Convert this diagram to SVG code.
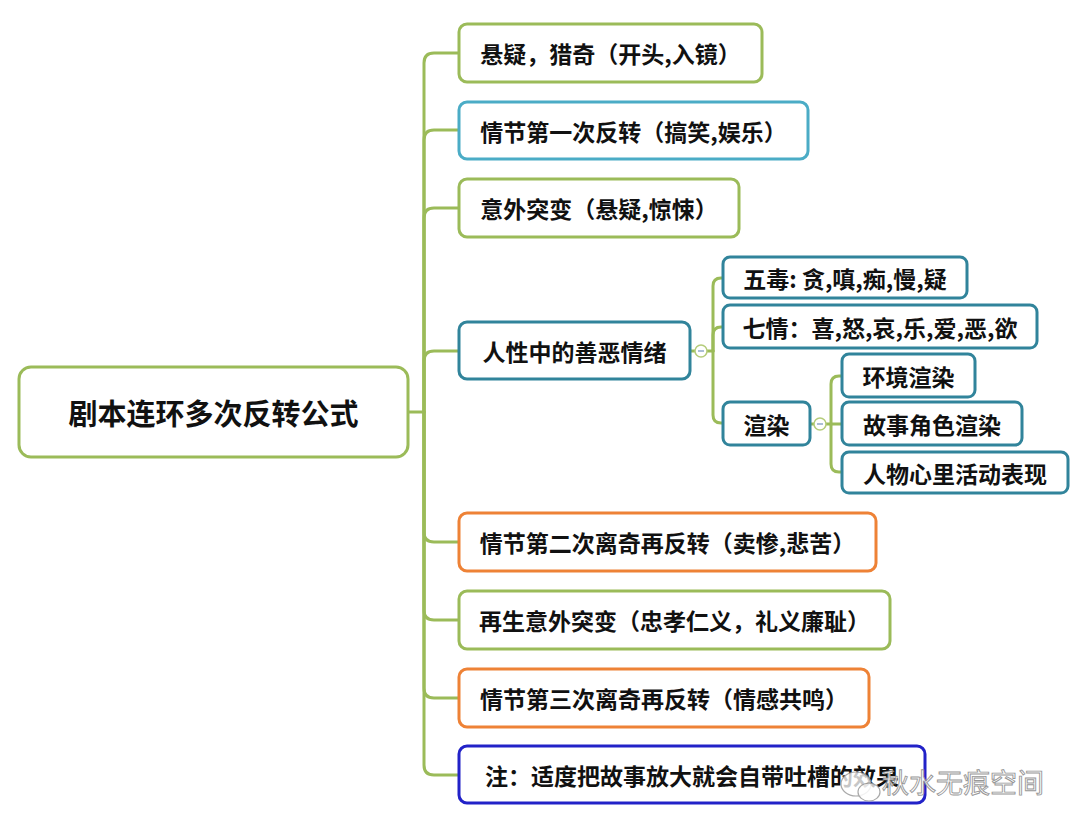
<svg xmlns="http://www.w3.org/2000/svg" width="1080" height="830" viewBox="0 0 1080 830">
<style>
  .bg { fill: #ffffff; }
  .box { fill: #ffffff; stroke-width: 3; }
  .g { stroke: #9bbb59; }
  .b { stroke: #4bacc6; }
  .t { stroke: #31849b; }
  .o { stroke: #ee8236; }
  .n { stroke: #2222c8; }
  .conn { fill: none; stroke: #9bbb59; stroke-width: 3; stroke-linecap: round; stroke-linejoin: round; }
  .lbl { font-family: "Noto Sans CJK SC", "Liberation Sans", sans-serif; font-weight: bold; font-size: 23px; fill: #111111; text-anchor: middle; dominant-baseline: central; }
  .root { font-size: 29px; }
  .tog { fill: #ffffff; stroke: #b5cc7a; stroke-width: 1.5; }
  .togm { stroke: #8fa8c8; stroke-width: 1.5; }
  .wm { font-family: "Noto Sans CJK SC", "Liberation Sans", sans-serif; font-size: 27px; fill: #ffffff; stroke: #8c8c8c; stroke-width: 0.9; }
</style>
<rect class="bg" x="0" y="0" width="1080" height="830"/>

<g id="connectors">
  <path class="conn" d="M408,412 H424"/>
  <path class="conn" d="M424,412 V63 Q424,53 434,53 H459"/>
  <path class="conn" d="M424,412 V140 Q424,130 434,130 H459"/>
  <path class="conn" d="M424,412 V218 Q424,208 434,208 H459"/>
  <path class="conn" d="M424,412 V361 Q424,351 434,351 H459"/>
  <path class="conn" d="M424,412 V532 Q424,542 434,542 H459"/>
  <path class="conn" d="M424,412 V610 Q424,620 434,620 H459"/>
  <path class="conn" d="M424,412 V688 Q424,698 434,698 H459"/>
  <path class="conn" d="M424,412 V765 Q424,775 434,775 H459"/>
  <path class="conn" d="M690,351 H695"/>
  <path class="conn" d="M707,351 H713"/>
  <path class="conn" d="M713,351 V286 Q713,278 721,278 H723"/>
  <path class="conn" d="M713,351 V335 Q713,327 721,327 H723"/>
  <path class="conn" d="M713,351 V415 Q713,423 721,423 H723"/>
  <path class="conn" d="M810,424 H814"/>
  <path class="conn" d="M826,424 H831"/>
  <path class="conn" d="M831,424 V384 Q831,376 839,376 H842"/>
  <path class="conn" d="M831,424 H842"/>
  <path class="conn" d="M831,424 V464 Q831,472 839,472 H842"/>
</g>

<g id="node-root">
  <rect class="box g" x="19" y="367" width="389" height="90" rx="12"/>
  <text class="lbl root" x="213.5" y="412">剧本连环多次反转公式</text>
</g>
<g id="node-1">
  <rect class="box g" x="459" y="24" width="303" height="58" rx="8"/>
  <text class="lbl" x="610.5" y="53">悬疑，猎奇（开头,入镜）</text>
</g>
<g id="node-2">
  <rect class="box b" x="459" y="102" width="349" height="57" rx="8"/>
  <text class="lbl" x="633.5" y="130.5">情节第一次反转（搞笑,娱乐）</text>
</g>
<g id="node-3">
  <rect class="box g" x="459" y="179" width="280" height="58" rx="8"/>
  <text class="lbl" x="599" y="208">意外突变（悬疑,惊悚）</text>
</g>
<g id="node-4">
  <rect class="box t" x="459" y="322" width="231" height="57" rx="8"/>
  <text class="lbl" x="574.5" y="350.5">人性中的善恶情绪</text>
</g>
<g id="toggle-4">
  <circle class="tog" cx="701" cy="351" r="6"/>
  <line class="togm" x1="698" y1="351" x2="704" y2="351"/>
</g>
<g id="node-4-1">
  <rect class="box t" x="723" y="257" width="244" height="41" rx="7"/>
  <text class="lbl" x="845" y="277.5">五毒: 贪,嗔,痴,慢,疑</text>
</g>
<g id="node-4-2">
  <rect class="box t" x="723" y="305" width="314" height="43" rx="7"/>
  <text class="lbl" x="880" y="326.5">七情：喜,怒,哀,乐,爱,恶,欲</text>
</g>
<g id="node-4-3">
  <rect class="box t" x="723" y="402" width="87" height="43" rx="7"/>
  <text class="lbl" x="766.5" y="423.5">渲染</text>
</g>
<g id="toggle-4-3">
  <circle class="tog" cx="820" cy="424" r="6"/>
  <line class="togm" x1="817" y1="424" x2="823" y2="424"/>
</g>
<g id="node-4-3-1">
  <rect class="box t" x="842" y="354" width="133" height="43" rx="7"/>
  <text class="lbl" x="908.5" y="375.5">环境渲染</text>
</g>
<g id="node-4-3-2">
  <rect class="box t" x="842" y="402" width="180" height="43" rx="7"/>
  <text class="lbl" x="932" y="423.5">故事角色渲染</text>
</g>
<g id="node-4-3-3">
  <rect class="box t" x="842" y="452" width="226" height="41" rx="7"/>
  <text class="lbl" x="955" y="472.5">人物心里活动表现</text>
</g>
<g id="node-5">
  <rect class="box o" x="459" y="513" width="417" height="58" rx="8"/>
  <text class="lbl" x="667.5" y="542">情节第二次离奇再反转（卖惨,悲苦）</text>
</g>
<g id="node-6">
  <rect class="box g" x="459" y="591" width="431" height="58" rx="8"/>
  <text class="lbl" x="674.5" y="620">再生意外突变（忠孝仁义，礼义廉耻）</text>
</g>
<g id="node-7">
  <rect class="box o" x="459" y="669" width="410" height="58" rx="8"/>
  <text class="lbl" x="664" y="698">情节第三次离奇再反转（情感共鸣）</text>
</g>
<g id="node-8">
  <rect class="box n" x="459" y="746" width="466" height="57" rx="8"/>
  <text class="lbl" x="692" y="775">注：适度把故事放大就会自带吐槽的效果</text>
</g>

<g id="watermark" opacity="0.9">
  <ellipse cx="856" cy="784" rx="15" ry="12" fill="#ffffff" fill-opacity="0.85" stroke="#a0a0a0" stroke-width="1.2"/>
  <ellipse cx="869" cy="792" rx="11" ry="9" fill="#ffffff" fill-opacity="0.85" stroke="#a0a0a0" stroke-width="1.2"/>
  <text class="wm" x="882" y="793">秋水无痕空间</text>
</g>
</svg>
